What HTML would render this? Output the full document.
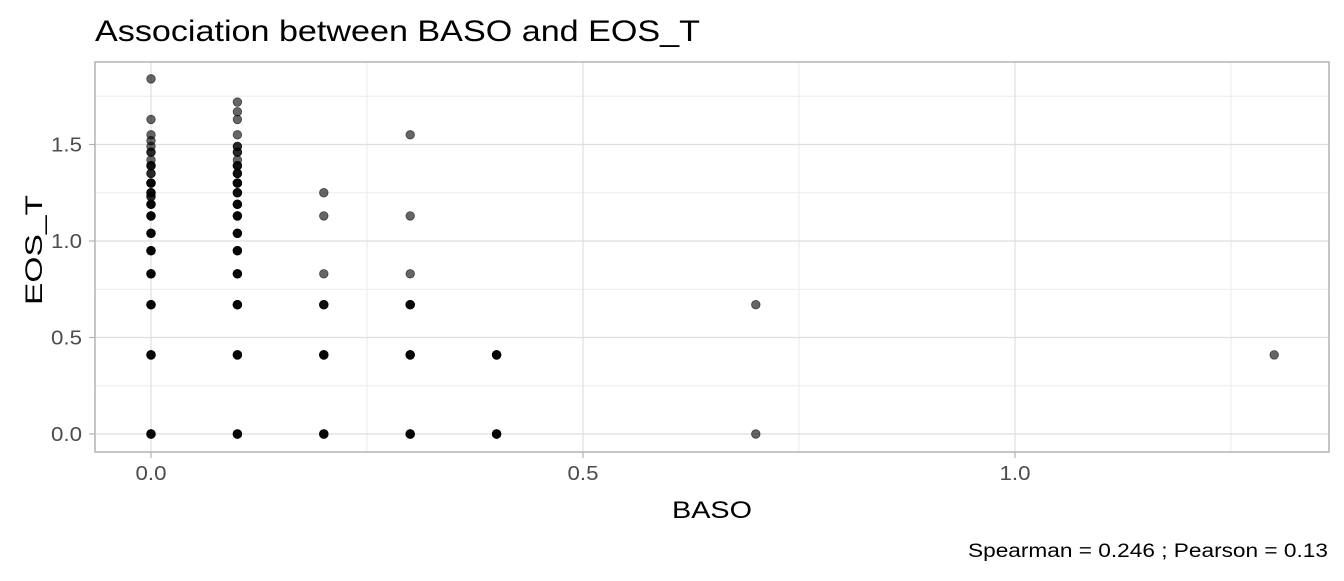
<!DOCTYPE html>
<html><head><meta charset="utf-8"><style>
body{margin:0;background:#fff;}
svg text{font-family:"Liberation Sans",Arial,sans-serif;}
</style></head><body>
<svg width="1344" height="576" xmlns="http://www.w3.org/2000/svg">
<g id="grid"></g>
<g id="pts"></g>
<g id="axes"></g>
<text x="95" y="41" font-size="30" textLength="605" lengthAdjust="spacingAndGlyphs" fill="#000">Association between BASO and EOS_T</text>
<text x="672" y="518" font-size="24" textLength="80" lengthAdjust="spacingAndGlyphs" fill="#000">BASO</text>
<text transform="translate(42,305) rotate(-90)" font-size="24" textLength="110" lengthAdjust="spacingAndGlyphs" fill="#000">EOS_T</text>
<text x="968" y="557" font-size="19" textLength="360" lengthAdjust="spacingAndGlyphs" fill="#000">Spearman = 0.246 ; Pearson = 0.13</text>
</svg>
<script>
const xTicks=[0,0.5,1.0];
const xTickLabels=["0.0","0.5","1.0"];
const yTicks=[0,0.5,1.0,1.5];
const yTickLabels=["0.0","0.5","1.0","1.5"];
const xVals=[0,0,0,0,0,0,0,0,0,0,0,0,0,0,0,0,0,0,0,0,
 0.1,0.1,0.1,0.1,0.1,0.1,0.1,0.1,0.1,0.1,0.1,0.1,0.1,0.1,0.1,0.1,0.1,0.1,0.1,
 0.2,0.2,0.2,0.2,0.2,0.2,
 0.3,0.3,0.3,0.3,0.3,0.3,
 0.4,0.4,0.7,0.7,1.3];
const yVals=[1.84,1.63,1.55,1.52,1.46,1.42,1.39,1.30,1.25,1.19,1.13,1.04,0.95,0.83,0.67,0.41,0,1.49,1.35,1.23,
 1.72,1.67,1.63,1.55,1.49,1.42,1.39,1.35,1.30,1.25,1.19,1.13,1.04,0.95,0.83,0.67,0.41,0,1.46,
 1.25,1.13,0.83,0.67,0.41,0,
 1.55,1.13,0.83,0.67,0.41,0,
 0.41,0,0.67,0,0.41];
const counts=[1,1,1,1,2,1,3,4,3,5,6,6,8,10,15,20,30,1,2,2,
 1,1,1,1,2,1,3,3,4,3,5,6,6,8,10,15,20,30,2,
 1,1,1,3,6,10,
 1,1,1,4,6,10,
 4,6,1,1,1];
const X0=95,X1=1329,Y0=62,Y1=452;
const sx=v=>151+v*864;
const sy=v=>434-v*193;
const NS="http://www.w3.org/2000/svg";
function mk(tag,attrs,parent){const e=document.createElementNS(NS,tag);for(const k in attrs)e.setAttribute(k,attrs[k]);parent.appendChild(e);return e;}
const grid=document.getElementById('grid'),pts=document.getElementById('pts'),axes=document.getElementById('axes');
[0.25,0.75,1.25].forEach(v=>{const l=mk('line',{x1:sx(v),x2:sx(v),y1:Y0,y2:Y1,stroke:'#ebebeb','stroke-width':1},grid);

});
[0.25,0.75,1.25,1.75].forEach(v=>{const l=mk('line',{x1:X0,x2:X1,y1:sy(v),y2:sy(v),stroke:'#ebebeb','stroke-width':1},grid);

});
xTicks.forEach((v,i)=>{const l=mk('line',{x1:sx(v),x2:sx(v),y1:Y0,y2:Y1,stroke:'#dedede','stroke-width':1.2},grid);


mk('line',{x1:sx(v),x2:sx(v),y1:Y1,y2:Y1+6,stroke:'#b3b3b3','stroke-width':1.2},axes);
const t=mk('text',{x:sx(v),y:Y1+28,'font-size':20,fill:'#4d4d4d','text-anchor':'middle',textLength:31,lengthAdjust:'spacingAndGlyphs'},axes);t.textContent=xTickLabels[i];

});
yTicks.forEach((v,i)=>{const l=mk('line',{x1:X0,x2:X1,y1:sy(v),y2:sy(v),stroke:'#dedede','stroke-width':1.2},grid);


mk('line',{x1:X0-6,x2:X0,y1:sy(v),y2:sy(v),stroke:'#b3b3b3','stroke-width':1.2},axes);
const t=mk('text',{x:X0-13,y:sy(v)+7,'font-size':20,fill:'#4d4d4d','text-anchor':'end',textLength:31,lengthAdjust:'spacingAndGlyphs'},axes);t.textContent=yTickLabels[i];

});
const b=mk('rect',{x:X0,y:Y0,width:X1-X0,height:Y1-Y0,fill:'none',stroke:'#b3b3b3','stroke-width':1.5},axes);


xVals.forEach((xv,i)=>{for(let k=0;k<Math.min(counts[i],4);k++){const c=mk('circle',{cx:sx(xv),cy:sy(yVals[i]),r:4.3,fill:'rgba(0,0,0,0.6)',stroke:'rgba(0,0,0,0.6)','stroke-width':0.8},pts);

}});
</script>
</body></html>
